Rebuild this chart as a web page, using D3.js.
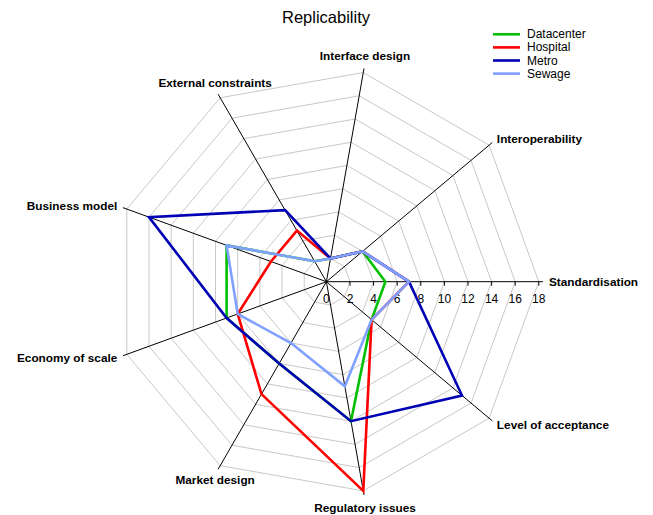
<!DOCTYPE html>
<html>
<head>
<meta charset="utf-8">
<script src="https://cdn.jsdelivr.net/npm/d3@7"></script>
<style>
  html, body { margin: 0; padding: 0; background: #fff; }
  svg { display: block; font-family: "Liberation Sans", Arial, sans-serif; }
</style>
</head>
<body>
<svg id="chart" width="653" height="515"></svg>
<script>
// Radar axes, listed counter-clockwise starting from the right-hand axis
const axes = [
  "Standardisation", "Interoperability", "Interface design", "External constraints",
  "Business model", "Economy of scale", "Market design", "Regulatory issues", "Level of acceptance"
];
const seriesNames = ["Datacenter", "Hospital", "Metro", "Sewage"];
const datacenter = [5, 4, 2, 2, 9, 9, 8, 12, 5];
const hospital   = [7, 4, 2, 5, 5, 8, 11, 18, 5];
const metro      = [7, 4, 2, 7, 16, 9, 8, 12, 15];
const sewage     = [7, 4, 2, 2, 9, 8, 6, 9, 5];
const seriesColors = ["#00c000", "#ff0000", "#0000b4", "#80a0ff"];
const tickValues = [0, 2, 4, 6, 8, 10, 12, 14, 16, 18];

const seriesValues = [datacenter, hospital, metro, sewage];

const svg = d3.select("#chart");
const cx = 326.4, cy = 281.7;
const r = d3.scaleLinear().domain([0, 18]).range([0, 212.4]);
const angle = d3.scaleLinear().domain([0, axes.length]).range([0, 2 * Math.PI]);

// polar value -> screen point (angle measured counter-clockwise from the right)
function pt(i, v) {
  const a = angle(i);
  return [cx + r(v) * Math.cos(a), cy - r(v) * Math.sin(a)];
}

// grid rings
const rings = tickValues.filter(t => t > 0);
svg.append("g").selectAll("polygon")
  .data(rings)
  .join("polygon")
  .attr("points", t => axes.map((_, i) => pt(i, t).join(",")).join(" "))
  .attr("fill", "none")
  .attr("stroke", "#c8c8c8")
  .attr("stroke-width", 1);

// spokes
const axisEnd = 18.35;
svg.append("g").selectAll("line")
  .data(axes)
  .join("line")
  .attr("x1", cx).attr("y1", cy)
  .attr("x2", (d, i) => pt(i, axisEnd)[0])
  .attr("y2", (d, i) => pt(i, axisEnd)[1])
  .attr("stroke", "#000")
  .attr("stroke-width", 1);

// tick marks and numbers along the first axis
const tickG = svg.append("g");
tickG.selectAll("line")
  .data(rings)
  .join("line")
  .attr("x1", t => cx + r(t)).attr("x2", t => cx + r(t))
  .attr("y1", cy).attr("y2", cy + 4)
  .attr("stroke", "#000");
tickG.selectAll("text")
  .data(tickValues)
  .join("text")
  .attr("x", t => cx + r(t))
  .attr("y", cy + 21)
  .attr("text-anchor", "middle")
  .attr("font-size", 12)
  .attr("fill", "#000")
  .text(t => t);

// axis labels
svg.append("g").selectAll("text")
  .data(axes)
  .join("text")
  .each(function (d, i) {
    const a = angle(i);
    const c = Math.cos(a), s = Math.sin(a);
    const [ex, ey] = pt(i, axisEnd);
    let anchor = "middle", dx = c * 6, dy = -s * 13;
    if (c > 0.6) { anchor = "start"; dy = -s * 6; }
    else if (c < -0.6) { anchor = "end"; dy = -s * 6; }
    d3.select(this)
      .attr("x", ex + dx)
      .attr("y", ey + dy)
      .attr("text-anchor", anchor)
      .attr("dominant-baseline", "central")
      .attr("font-size", 11.8)
      .attr("font-weight", "bold")
      .attr("fill", "#000")
      .text(d);
  });

// series polygons
const line = d3.line().curve(d3.curveLinearClosed);
svg.append("g").selectAll("path")
  .data(seriesValues)
  .join("path")
  .attr("d", vals => line(vals.map((v, i) => pt(i, v))))
  .attr("fill", "none")
  .attr("stroke", (d, k) => seriesColors[k])
  .attr("stroke-width", 2.6)
  .attr("stroke-linejoin", "miter");

// title
svg.append("text")
  .attr("x", 326).attr("y", 23)
  .attr("text-anchor", "middle")
  .attr("font-size", 16.5)
  .attr("fill", "#000")
  .text("Replicability");

// legend
const legend = svg.append("g").selectAll("g")
  .data(seriesNames)
  .join("g")
  .attr("transform", (d, k) => `translate(0, ${34.3 + k * 13.1})`);
legend.append("line")
  .attr("x1", 493).attr("x2", 520)
  .attr("y1", 0).attr("y2", 0)
  .attr("stroke", (d, k) => seriesColors[k])
  .attr("stroke-width", 2.6);
legend.append("text")
  .attr("x", 527)
  .attr("y", 0)
  .attr("dominant-baseline", "central")
  .attr("font-size", 12)
  .attr("fill", "#000")
  .text(d => d);
</script>
</body>
</html>
